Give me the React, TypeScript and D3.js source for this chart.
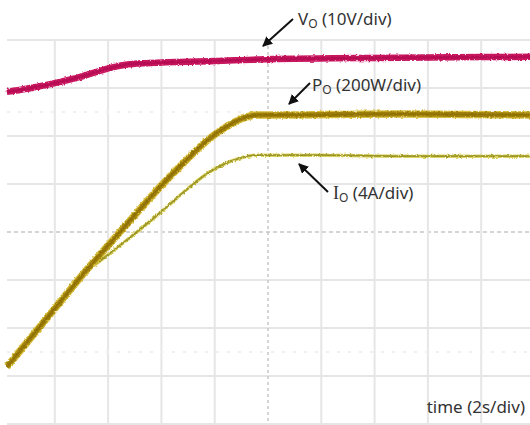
import React from 'react';
import * as d3 from 'd3';

// scope settings: 10 div across (2 s/div), 8 div tall
const DIV_X = 10;
const DIV_Y = 8;
const SEC_PER_DIV = 2;

// traces, time in s, level in divisions from centre
const voTime = [0.2, 1.1, 2.0, 2.95, 3.95, 4.6, 5.55, 8.0, 9.9, 14.9, 19.9];
const voLevel = [2.92, 3.0, 3.1, 3.23, 3.4, 3.48, 3.52, 3.56, 3.6, 3.63, 3.65];

const poTime = [0.2, 1.25, 2.2, 3.1, 4.05, 5.0, 5.95, 6.9, 7.7, 8.4, 9.0, 9.6, 11.2, 13.0, 15.0, 17.0, 19.9];
const poLevel = [-2.81, -2.1, -1.46, -0.85, -0.25, 0.35, 0.94, 1.48, 1.9, 2.18, 2.36, 2.44, 2.44, 2.45, 2.46, 2.45, 2.44];

const ioTime = [0.2, 1.25, 2.2, 3.1, 3.7, 4.7, 5.95, 7.2, 7.8, 8.45, 8.95, 9.5, 12.0, 15.0, 19.9];
const ioLevel = [-2.81, -2.1, -1.46, -0.85, -0.6, -0.17, 0.4, 1.0, 1.25, 1.44, 1.54, 1.6, 1.6, 1.58, 1.58];

const W = 530;
const H = 425;

export default function App() {
  const x = d3.scaleLinear().domain([0, DIV_X * SEC_PER_DIV]).range([1.5, 534.5]);
  const y = d3.scaleLinear().domain([-DIV_Y / 2, DIV_Y / 2]).range([424, 40]);

  const line = d3
    .line<[number, number]>()
    .x(d => x(d[0]))
    .y(d => y(d[1]))
    .curve(d3.curveMonotoneX);

  const zip = (t: number[], v: number[]) => t.map((d, i) => [d, v[i]] as [number, number]);
  const vo = line(zip(voTime, voLevel)) || '';
  const po = line(zip(poTime, poLevel)) || '';
  const io = line(zip(ioTime, ioLevel)) || '';

  const vTicks = d3.range(1, DIV_X).map(i => i * SEC_PER_DIV);
  const hTicks = d3.range(-DIV_Y / 2, DIV_Y / 2 + 1);

  return (
    <svg width={W} height={H} style={{ position: 'absolute', left: 0, top: 0, background: '#fff' }}>
      <defs>
        <filter id="noise" x="-5%" y="-20%" width="110%" height="140%">
          <feTurbulence type="fractalNoise" baseFrequency="0.45" numOctaves="2" seed="3" />
          <feDisplacementMap in="SourceGraphic" scale="3" xChannelSelector="R" yChannelSelector="G" />
        </filter>
        <marker id="arr" viewBox="0 0 10 10" refX="9" refY="5" markerWidth="5" markerHeight="5" orient="auto">
          <path d="M0,0 L10,5 L0,10 z" fill="#111" />
        </marker>
      </defs>

      {/* grid */}
      <g>
        {hTicks.map(v => (
          <line
            key={'h' + v}
            x1={7}
            x2={W}
            y1={y(v)}
            y2={y(v)}
            stroke={v === 0 ? '#c8c8c8' : '#e6e6e6'}
            strokeWidth={v === 0 ? 1.5 : 2}
            strokeDasharray={v === 0 ? '4,3' : undefined}
          />
        ))}
        {vTicks.map(t => (
          <line
            key={'v' + t}
            x1={x(t)}
            x2={x(t)}
            y1={40}
            y2={424}
            stroke={t === 10 ? '#c8c8c8' : '#e6e6e6'}
            strokeWidth={t === 10 ? 1.5 : 2}
            strokeDasharray={t === 10 ? '3,3' : undefined}
          />
        ))}
        {[2.5, -2.5].map(v => (
          <line key={'d' + v} x1={7} x2={W} y1={y(v)} y2={y(v)} stroke="#f0f0f0" strokeWidth={2} strokeDasharray="3,8" />
        ))}
      </g>

      {/* traces */}
      <g filter="url(#noise)" fill="none" strokeLinecap="butt">
        <path d={vo} stroke="#c8145e" strokeWidth={6.5} />
        <path d={vo} stroke="#a80c4c" strokeWidth={2.5} opacity={0.6} />
        <path d={io} stroke="#ddd466" strokeWidth={3.5} />
        <path d={io} stroke="#9c9628" strokeWidth={1.8} />
        <path d={po} stroke="#d6bd3a" strokeWidth={7.5} />
        <path d={po} stroke="#a0800a" strokeWidth={5} />
        <path d={po} stroke="#806400" strokeWidth={1.6} opacity={0.6} />
      </g>

      {/* labels */}
      <g fontFamily="'Noto Sans', 'Open Sans', sans-serif" fontSize={17} fill="#333">
        <line x1={293} y1={19} x2={263} y2={46} stroke="#111" strokeWidth={2} markerEnd="url(#arr)" />
        <text x={298} y={25}>
          V<tspan fontSize={12} dy={3}>O</tspan>
          <tspan dy={-3}> (10V/div)</tspan>
        </text>

        <line x1={310} y1={83} x2={289} y2={104} stroke="#111" strokeWidth={2} markerEnd="url(#arr)" />
        <text x={312} y={91}>
          P<tspan fontSize={12} dy={3}>O</tspan>
          <tspan dy={-3}> (200W/div)</tspan>
        </text>

        <line x1={328} y1={192} x2={299} y2={164} stroke="#111" strokeWidth={2} markerEnd="url(#arr)" />
        <text x={333} y={199}>
          <tspan fontFamily="'Liberation Serif', serif" fontSize={18}>I</tspan>
          <tspan fontSize={12} dy={3}>O</tspan>
          <tspan dy={-3}> (4A/div)</tspan>
        </text>

        <text x={525} y={413} textAnchor="end">time (2s/div)</text>
      </g>
    </svg>
  );
}
